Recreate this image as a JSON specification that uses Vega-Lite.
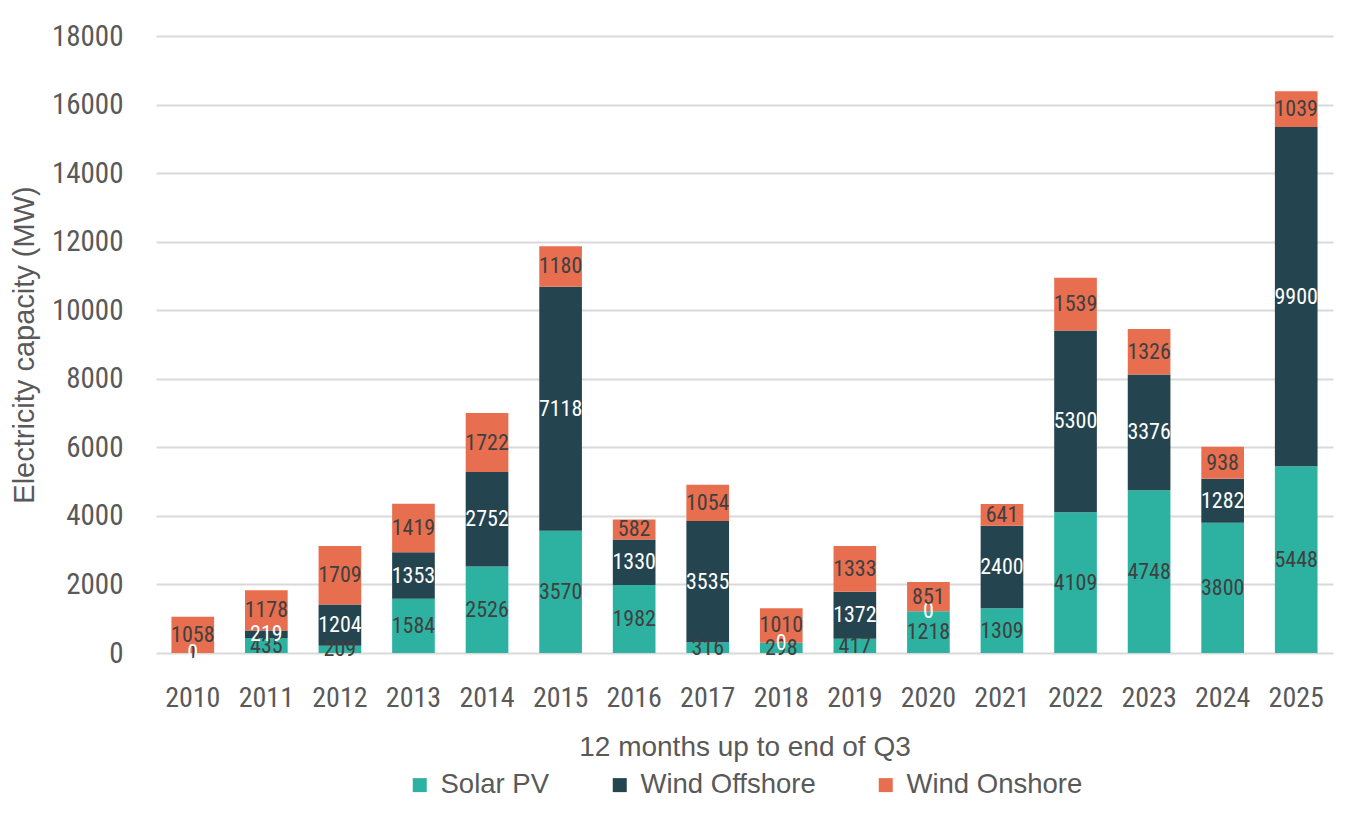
{
  "$schema": "https://vega.github.io/schema/vega-lite/v6.json",
  "width": 1366,
  "height": 819,
  "autosize": {"type": "fit", "contains": "padding"},
  "padding": {"left": 10, "right": 33, "top": 22, "bottom": 20},
  "background": "white",
  "config": {
    "view": {"stroke": null},
    "legend": {"layout": {"bottom": {"anchor": "middle"}}}
  },
  "data": {
    "values": [
      {"year": "2010", "source": "Solar PV", "mw": 1},
      {"year": "2010", "source": "Wind Offshore", "mw": 0},
      {"year": "2010", "source": "Wind Onshore", "mw": 1058},
      {"year": "2011", "source": "Solar PV", "mw": 435},
      {"year": "2011", "source": "Wind Offshore", "mw": 219},
      {"year": "2011", "source": "Wind Onshore", "mw": 1178},
      {"year": "2012", "source": "Solar PV", "mw": 209},
      {"year": "2012", "source": "Wind Offshore", "mw": 1204},
      {"year": "2012", "source": "Wind Onshore", "mw": 1709},
      {"year": "2013", "source": "Solar PV", "mw": 1584},
      {"year": "2013", "source": "Wind Offshore", "mw": 1353},
      {"year": "2013", "source": "Wind Onshore", "mw": 1419},
      {"year": "2014", "source": "Solar PV", "mw": 2526},
      {"year": "2014", "source": "Wind Offshore", "mw": 2752},
      {"year": "2014", "source": "Wind Onshore", "mw": 1722},
      {"year": "2015", "source": "Solar PV", "mw": 3570},
      {"year": "2015", "source": "Wind Offshore", "mw": 7118},
      {"year": "2015", "source": "Wind Onshore", "mw": 1180},
      {"year": "2016", "source": "Solar PV", "mw": 1982},
      {"year": "2016", "source": "Wind Offshore", "mw": 1330},
      {"year": "2016", "source": "Wind Onshore", "mw": 582},
      {"year": "2017", "source": "Solar PV", "mw": 316},
      {"year": "2017", "source": "Wind Offshore", "mw": 3535},
      {"year": "2017", "source": "Wind Onshore", "mw": 1054},
      {"year": "2018", "source": "Solar PV", "mw": 298},
      {"year": "2018", "source": "Wind Offshore", "mw": 0},
      {"year": "2018", "source": "Wind Onshore", "mw": 1010},
      {"year": "2019", "source": "Solar PV", "mw": 417},
      {"year": "2019", "source": "Wind Offshore", "mw": 1372},
      {"year": "2019", "source": "Wind Onshore", "mw": 1333},
      {"year": "2020", "source": "Solar PV", "mw": 1218},
      {"year": "2020", "source": "Wind Offshore", "mw": 0},
      {"year": "2020", "source": "Wind Onshore", "mw": 851},
      {"year": "2021", "source": "Solar PV", "mw": 1309},
      {"year": "2021", "source": "Wind Offshore", "mw": 2400},
      {"year": "2021", "source": "Wind Onshore", "mw": 641},
      {"year": "2022", "source": "Solar PV", "mw": 4109},
      {"year": "2022", "source": "Wind Offshore", "mw": 5300},
      {"year": "2022", "source": "Wind Onshore", "mw": 1539},
      {"year": "2023", "source": "Solar PV", "mw": 4748},
      {"year": "2023", "source": "Wind Offshore", "mw": 3376},
      {"year": "2023", "source": "Wind Onshore", "mw": 1326},
      {"year": "2024", "source": "Solar PV", "mw": 3800},
      {"year": "2024", "source": "Wind Offshore", "mw": 1282},
      {"year": "2024", "source": "Wind Onshore", "mw": 938},
      {"year": "2025", "source": "Solar PV", "mw": 5448},
      {"year": "2025", "source": "Wind Offshore", "mw": 9900},
      {"year": "2025", "source": "Wind Onshore", "mw": 1039}
    ]
  },
  "encoding": {
    "x": {
      "field": "year",
      "type": "ordinal",
      "title": "12 months up to end of Q3",
      "scale": {"paddingInner": 0.42, "paddingOuter": 0.21},
      "axis": {
        "labelAngle": 0,
        "labelFont": "Roboto Condensed, DejaVu Sans Condensed, sans-serif",
        "labelFontSize": 28,
        "labelColor": "#595959",
        "labelPadding": 31,
        "ticks": false,
        "domain": false,
        "titleFont": "Liberation Sans, Arial, sans-serif",
        "titleFontSize": 28,
        "titleFontWeight": "normal",
        "titleColor": "#595959",
        "titlePadding": 21
      }
    },
    "y": {
      "field": "mw",
      "type": "quantitative",
      "stack": "zero",
      "title": "Electricity capacity (MW)",
      "scale": {"domain": [0, 18000], "nice": false},
      "axis": {
        "values": [0, 2000, 4000, 6000, 8000, 10000, 12000, 14000, 16000, 18000],
        "format": "d",
        "labelFont": "Roboto Condensed, DejaVu Sans Condensed, sans-serif",
        "labelFontSize": 29,
        "labelColor": "#595959",
        "labelPadding": 33,
        "ticks": false,
        "domain": false,
        "grid": true,
        "gridColor": "#d9d9d9",
        "gridWidth": 2,
        "titleFont": "Liberation Sans, Arial, sans-serif",
        "titleFontSize": 29,
        "titleFontWeight": "normal",
        "titleColor": "#595959",
        "titlePadding": 12
      }
    },
    "order": {"field": "source", "type": "nominal", "sort": "ascending"}
  },
  "layer": [
    {
      "mark": {"type": "bar"},
      "encoding": {
        "color": {
          "field": "source",
          "type": "nominal",
          "scale": {
            "domain": ["Solar PV", "Wind Offshore", "Wind Onshore"],
            "range": ["#2db2a1", "#24444f", "#e86e50"]
          },
          "legend": {
            "title": null,
            "orient": "bottom",
            "direction": "horizontal",
            "symbolType": "square",
            "symbolSize": 196,
            "symbolStrokeWidth": 0,
            "labelFont": "Liberation Sans, Arial, sans-serif",
            "labelFontSize": 27.5,
            "labelColor": "#595959",
            "labelOffset": 7,
            "labelLimit": 400,
            "columnPadding": 56,
            "offset": 10
          }
        }
      }
    },
    {
      "mark": {
        "type": "text",
        "font": "Roboto Condensed, DejaVu Sans Condensed, sans-serif",
        "fontSize": 22,
        "baseline": "middle",
        "align": "center"
      },
      "encoding": {
        "y": {"field": "mw", "type": "quantitative", "stack": "zero", "bandPosition": 0.5},
        "detail": {"field": "source", "type": "nominal"},
        "text": {"field": "mw", "type": "quantitative", "format": "d"},
        "color": {
          "condition": {"test": "datum.source === 'Wind Offshore'", "value": "#ffffff"},
          "value": "#404040"
        }
      }
    }
  ]
}
